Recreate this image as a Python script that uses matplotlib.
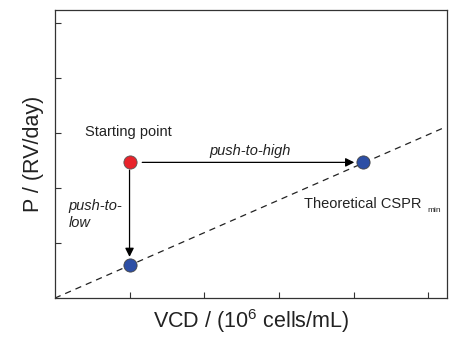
import numpy as np
import matplotlib.pyplot as plt

plt.rcParams['font.family'] = ['Liberation Sans', 'DejaVu Sans']
plt.rcParams['mathtext.fontset'] = 'custom'
plt.rcParams['mathtext.rm'] = 'Liberation Sans'

# points (arbitrary units)
start_pt = (1.0, 2.47)
low_pt = (1.0, 0.6)
high_pt = (4.13, 2.47)
cspr_slope = 0.595
line_x = [0.0, 5.2]
x_ticks = [1, 2, 3, 4, 5]
y_ticks = [1, 2, 3, 4, 5]

fig = plt.figure(figsize=(4.65, 3.38), dpi=100)
ax = fig.add_axes([0.118, 0.118, 0.843, 0.852])

# theoretical CSPR_min line
lx = np.array(line_x)
ax.plot(lx, cspr_slope * lx, "--", color="#222222", lw=0.9, dashes=(5, 4), zorder=1)

# arrows
ax.annotate("", xy=(4.01, high_pt[1]), xytext=(1.17, start_pt[1]),
            arrowprops=dict(arrowstyle="-|>", color="black", lw=0.9,
                            mutation_scale=13, shrinkA=0, shrinkB=0))
ax.annotate("", xy=(1.0, 0.75), xytext=(1.0, 2.33),
            arrowprops=dict(arrowstyle="-|>", color="black", lw=0.9,
                            mutation_scale=13, shrinkA=0, shrinkB=0))

# markers
ax.plot(*start_pt, "o", ms=9.5, color="#e8232b", mec="#555555", mew=0.6, zorder=3)
ax.plot(*low_pt, "o", ms=9.5, color="#2d4fa5", mec="#444444", mew=0.6, zorder=3)
ax.plot(*high_pt, "o", ms=9.5, color="#2d4fa5", mec="#444444", mew=0.6, zorder=3)

# annotations
ax.text(0.98, 3.02, "Starting point", ha="center", va="center", fontsize=10.5, color="#222222")
ax.text(2.62, 2.67, "push-to-high", ha="center", va="center", fontsize=10.5,
        style="italic", color="#222222")
ax.text(0.18, 1.8, "push-to-\nlow", ha="left", va="top", fontsize=10.5,
        style="italic", color="#222222", linespacing=1.25)
ax.text(3.33, 1.72, "Theoretical CSPR", ha="left", va="center", fontsize=10.5, color="#222222")
ax.text(4.99, 1.6, "min", ha="left", va="center", fontsize=6, color="#222222")

ax.set_xlim(0, 5.25)
ax.set_ylim(0, 5.24)
ax.set_xticks(x_ticks)
ax.set_yticks(y_ticks)
ax.set_xticklabels([])
ax.set_yticklabels([])
ax.tick_params(direction="in", length=4, width=0.8, color="#333333")
for s in ax.spines.values():
    s.set_linewidth(0.9)
    s.set_color("#333333")

ax.set_xlabel("VCD / (10$^{6}$ cells/mL)", fontsize=15.5, color="#222222", labelpad=3)
ax.set_ylabel("P / (RV/day)", fontsize=15.5, color="#222222", labelpad=4)

fig.savefig("out.png", dpi=100)
